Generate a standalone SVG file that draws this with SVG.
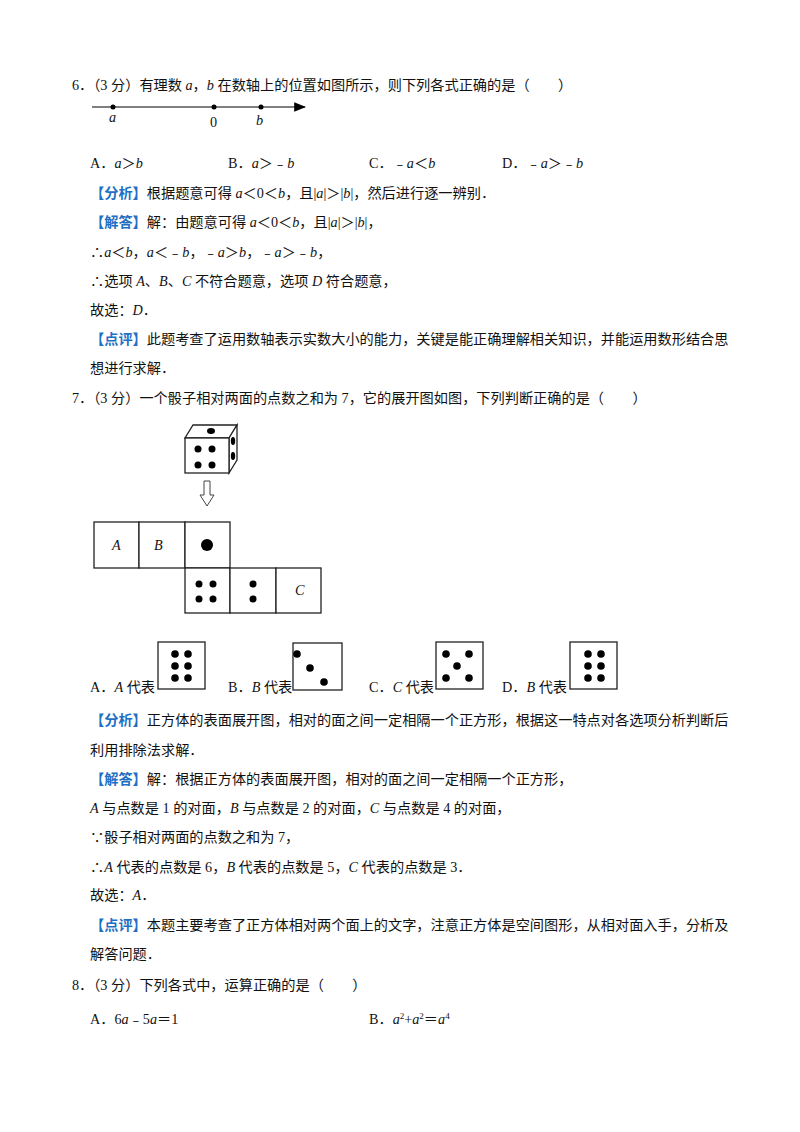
<svg xmlns="http://www.w3.org/2000/svg" width="800" height="1132" viewBox="0 0 800 1132">
<style>
text{font-family:"Liberation Serif","Noto Sans CJK SC",serif;font-size:14.2px;fill:#111}
.i{font-style:italic}
.b{fill:#1f6fc5;font-weight:bold}
.ln{stroke:#000;stroke-width:1.2;fill:none}
.bx{stroke:#222;stroke-width:1.3;fill:#fff}
</style>
<defs><marker id="ar" markerWidth="10" markerHeight="8" refX="9" refY="4" orient="auto"><path d="M0,0 L10,4 L0,8 Z" fill="#000"/></marker></defs>
<rect width="800" height="1132" fill="#fff"/>
<text x="72" y="90">6．（3 分）有理数 <tspan class="i">a</tspan>，<tspan class="i">b</tspan> 在数轴上的位置如图所示，则下列各式正确的是（　　）</text>
<g id="numberline">
<line x1="92" y1="107" x2="305" y2="107" class="ln" marker-end="url(#ar)"/>
<circle cx="113" cy="107" r="2.5"/><circle cx="214" cy="107" r="2.5"/><circle cx="261" cy="107" r="2.5"/>
<text x="109" y="122" class="i">a</text><text x="210" y="127">0</text><text x="256" y="125" class="i">b</text>
</g>
<text x="90" y="168">A．<tspan class="i">a</tspan>＞<tspan class="i">b</tspan></text>
<text x="228" y="168">B．<tspan class="i">a</tspan>＞﹣<tspan class="i">b</tspan></text>
<text x="369" y="168">C．﹣<tspan class="i">a</tspan>＜<tspan class="i">b</tspan></text>
<text x="502" y="168">D．﹣<tspan class="i">a</tspan>＞﹣<tspan class="i">b</tspan></text>
<text x="90" y="198"><tspan class="b">【分析】</tspan>根据题意可得 <tspan class="i">a</tspan>＜0＜<tspan class="i">b</tspan>，且|<tspan class="i">a</tspan>|＞|<tspan class="i">b</tspan>|，然后进行逐一辨别．</text>
<text x="90" y="227"><tspan class="b">【解答】</tspan>解：由题意可得 <tspan class="i">a</tspan>＜0＜<tspan class="i">b</tspan>，且|<tspan class="i">a</tspan>|＞|<tspan class="i">b</tspan>|，</text>
<text x="90" y="257">∴<tspan class="i">a</tspan>＜<tspan class="i">b</tspan>，<tspan class="i">a</tspan>＜﹣<tspan class="i">b</tspan>，﹣<tspan class="i">a</tspan>＞<tspan class="i">b</tspan>，﹣<tspan class="i">a</tspan>＞﹣<tspan class="i">b</tspan>，</text>
<text x="90" y="286">∴选项 <tspan class="i">A</tspan>、<tspan class="i">B</tspan>、<tspan class="i">C</tspan> 不符合题意，选项 <tspan class="i">D</tspan> 符合题意，</text>
<text x="90" y="315">故选：<tspan class="i">D</tspan>．</text>
<text x="90" y="344"><tspan class="b">【点评】</tspan>此题考查了运用数轴表示实数大小的能力，关键是能正确理解相关知识，并能运用数形结合思</text>
<text x="90" y="373">想进行求解．</text>
<text x="72" y="403">7．（3 分）一个骰子相对两面的点数之和为 7，它的展开图如图，下列判断正确的是（　　）</text>
<g id="cube">
<path d="M185,438 L193,425 L237,425 L229,438 Z" class="bx"/>
<path d="M229,438 L237,425 L237,460 L229,473 Z" class="bx"/>
<rect x="185" y="438" width="44" height="35" class="bx"/>
<ellipse cx="211" cy="431" rx="4" ry="3"/>
<ellipse cx="233" cy="441" rx="2.2" ry="4"/><ellipse cx="233" cy="456" rx="2.2" ry="4"/>
<circle cx="198" cy="449" r="3.5"/><circle cx="212" cy="449" r="3.5"/><circle cx="198" cy="465" r="3.5"/><circle cx="212" cy="465" r="3.5"/>
</g>
<g id="downarrow"><path d="M204,481 L210,481 L210,495 L214,495 L207,506 L200,495 L204,495 Z" fill="#fff" stroke="#444" stroke-width="1"/></g>
<g id="net">
<rect x="94" y="522" width="45" height="46" class="bx"/>
<rect x="139" y="522" width="46" height="46" class="bx"/>
<rect x="185" y="522" width="45" height="46" class="bx"/>
<rect x="185" y="568" width="45" height="45" class="bx"/>
<rect x="230" y="568" width="46" height="45" class="bx"/>
<rect x="276" y="568" width="45" height="45" class="bx"/>
<text x="112" y="550" class="i" font-size="13">A</text>
<text x="154" y="550" class="i" font-size="13">B</text>
<circle cx="207" cy="545" r="6"/>
<circle cx="199" cy="584" r="3.5"/><circle cx="213" cy="584" r="3.5"/><circle cx="199" cy="599" r="3.5"/><circle cx="213" cy="599" r="3.5"/>
<circle cx="253" cy="584" r="3.5"/><circle cx="253" cy="599" r="3.5"/>
<text x="295" y="595" class="i" font-size="13">C</text>
</g>
<g id="opts">
<text x="90" y="692">A．<tspan class="i">A</tspan> 代表</text>
<rect x="158" y="642" width="47" height="47" class="bx"/>
<circle cx="175" cy="654" r="3.8"/><circle cx="188" cy="654" r="3.8"/><circle cx="175" cy="666" r="3.8"/><circle cx="188" cy="666" r="3.8"/><circle cx="175" cy="678" r="3.8"/><circle cx="188" cy="678" r="3.8"/>
<text x="228" y="692">B．<tspan class="i">B</tspan> 代表</text>
<rect x="293" y="643" width="49" height="47" class="bx"/>
<circle cx="297" cy="654" r="3.8"/><circle cx="310" cy="668" r="3.8"/><circle cx="324" cy="682" r="3.8"/>
<text x="369" y="692">C．<tspan class="i">C</tspan> 代表</text>
<rect x="436" y="642" width="47" height="47" class="bx"/>
<circle cx="446" cy="654" r="3.8"/><circle cx="469" cy="654" r="3.8"/><circle cx="457" cy="666" r="3.8"/><circle cx="446" cy="678" r="3.8"/><circle cx="469" cy="678" r="3.8"/>
<text x="502" y="692">D．<tspan class="i">B</tspan> 代表</text>
<rect x="570" y="642" width="47" height="47" class="bx"/>
<circle cx="588" cy="654" r="3.8"/><circle cx="601" cy="654" r="3.8"/><circle cx="588" cy="666" r="3.8"/><circle cx="601" cy="666" r="3.8"/><circle cx="588" cy="678" r="3.8"/><circle cx="601" cy="678" r="3.8"/>
</g>
<text x="90" y="725"><tspan class="b">【分析】</tspan>正方体的表面展开图，相对的面之间一定相隔一个正方形，根据这一特点对各选项分析判断后</text>
<text x="90" y="755">利用排除法求解．</text>
<text x="90" y="784"><tspan class="b">【解答】</tspan>解：根据正方体的表面展开图，相对的面之间一定相隔一个正方形，</text>
<text x="90" y="813"><tspan class="i">A</tspan> 与点数是 1 的对面，<tspan class="i">B</tspan> 与点数是 2 的对面，<tspan class="i">C</tspan> 与点数是 4 的对面，</text>
<text x="90" y="842">∵骰子相对两面的点数之和为 7，</text>
<text x="90" y="872">∴<tspan class="i">A</tspan> 代表的点数是 6，<tspan class="i">B</tspan> 代表的点数是 5，<tspan class="i">C</tspan> 代表的点数是 3．</text>
<text x="90" y="900">故选：<tspan class="i">A</tspan>．</text>
<text x="90" y="930"><tspan class="b">【点评】</tspan>本题主要考查了正方体相对两个面上的文字，注意正方体是空间图形，从相对面入手，分析及</text>
<text x="90" y="959">解答问题．</text>
<text x="72" y="990">8．（3 分）下列各式中，运算正确的是（　　）</text>
<text x="90" y="1024">A．6<tspan class="i">a</tspan>﹣5<tspan class="i">a</tspan>＝1</text>
<text x="369" y="1024">B．<tspan class="i">a</tspan><tspan dy="-5" font-size="9">2</tspan><tspan dy="5">+</tspan><tspan class="i">a</tspan><tspan dy="-5" font-size="9">2</tspan><tspan dy="5">＝</tspan><tspan class="i">a</tspan><tspan dy="-5" font-size="9">4</tspan></text>
</svg>
